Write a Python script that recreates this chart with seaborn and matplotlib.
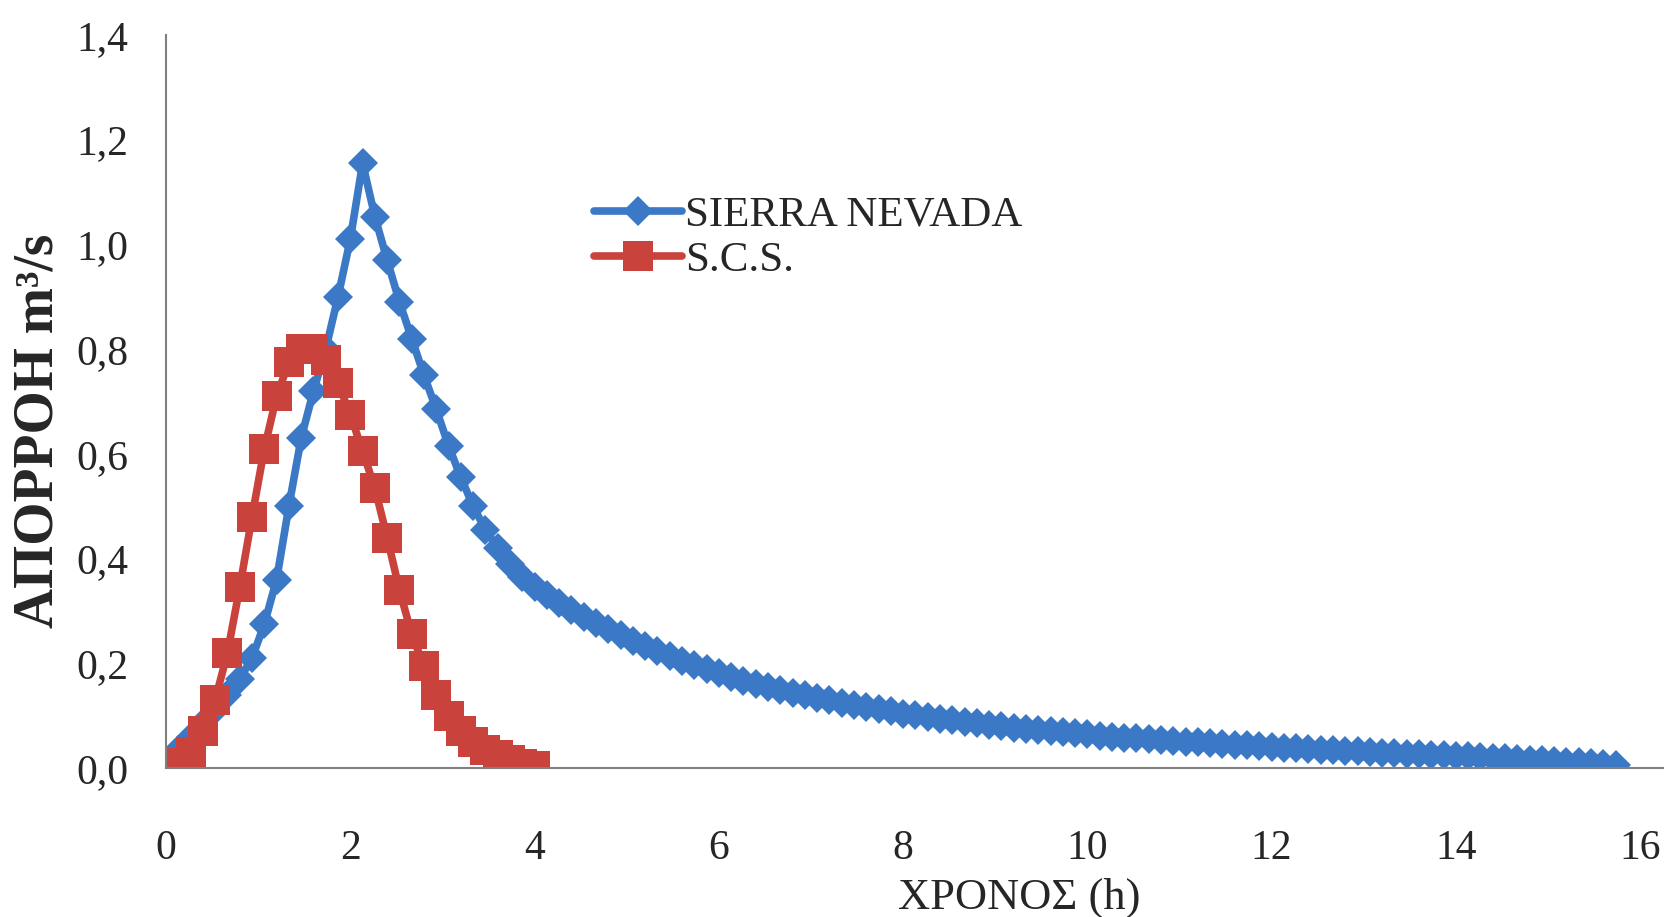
import numpy as np
import pandas as pd
import seaborn as sns
import matplotlib.pyplot as plt

# time step of both hydrographs: 8 minutes
step_h = 8 / 60

# runoff (m3/s) - SIERRA NEVADA unit hydrograph
sierra_q = [
    0.01, 0.035, 0.06, 0.085, 0.11, 0.14, 0.17, 0.21, 0.275, 0.36,
    0.50, 0.63, 0.72, 0.80, 0.90, 1.01, 1.155, 1.053, 0.97, 0.89,
    0.82, 0.75, 0.685, 0.615, 0.555, 0.50, 0.455, 0.42, 0.39, 0.365,
    0.345, 0.33, 0.316, 0.302, 0.289, 0.277, 0.265, 0.254, 0.243, 0.233,
    0.224, 0.214, 0.205, 0.197, 0.189, 0.181, 0.174, 0.167, 0.161, 0.155,
    0.149, 0.144, 0.139, 0.134, 0.129, 0.124, 0.12, 0.116, 0.112, 0.108,
    0.104, 0.101, 0.097, 0.094, 0.091, 0.088, 0.085, 0.082, 0.08, 0.077,
    0.075, 0.072, 0.07, 0.068, 0.066, 0.064, 0.062, 0.06, 0.058, 0.057,
    0.055, 0.053, 0.052, 0.05, 0.049, 0.047, 0.046, 0.044, 0.043, 0.042,
    0.04, 0.039, 0.038, 0.037, 0.035, 0.034, 0.033, 0.032, 0.031, 0.029,
    0.028, 0.027, 0.026, 0.025, 0.024, 0.023, 0.022, 0.021, 0.02, 0.019,
    0.018, 0.016, 0.015, 0.014, 0.012, 0.011, 0.009, 0.008, 0.006,
]

# runoff (m3/s) - S.C.S. unit hydrograph
scs_q = [
    0.0, 0.01, 0.03, 0.07, 0.13, 0.22, 0.345, 0.48, 0.61, 0.71,
    0.775, 0.80, 0.80, 0.78, 0.735, 0.675, 0.605, 0.535, 0.44, 0.34,
    0.255, 0.195, 0.14, 0.10, 0.07, 0.05, 0.035, 0.024, 0.015, 0.008,
    0.003,
]

y_ticks = [0.0, 0.2, 0.4, 0.6, 0.8, 1.0, 1.2, 1.4]
x_ticks = [0, 2, 4, 6, 8, 10, 12, 14, 16]

df_sn = pd.DataFrame({"t": np.arange(len(sierra_q)) * step_h, "q": sierra_q})
df_scs = pd.DataFrame({"t": np.arange(len(scs_q)) * step_h, "q": scs_q})

sns.set_style("white")
plt.rcParams["font.family"] = ["Liberation Serif", "DejaVu Serif"]

blue = "#3b78c6"
red = "#c9423b"

fig = plt.figure(figsize=(16.69, 9.17), dpi=100)
ax = fig.add_axes([0.0995, 0.1625, 0.897, 0.7993])

sns.lineplot(data=df_sn, x="t", y="q", ax=ax, color=blue, marker="D",
             markersize=15, markeredgewidth=0, linewidth=5.5,
             label="SIERRA NEVADA")
sns.lineplot(data=df_scs, x="t", y="q", ax=ax, color=red, marker="s",
             markersize=21, markeredgewidth=0, linewidth=5.5,
             label="S.C.S.")

ax.set_xlim(0, 16.25)
ax.set_ylim(0, 1.4)
ax.set_xticks(x_ticks)
ax.set_yticks(y_ticks)
ax.set_yticklabels([f"{v:.1f}".replace(".", ",") for v in y_ticks])
ax.tick_params(axis="both", length=0, labelsize=30)
ax.tick_params(axis="x", pad=44)
ax.tick_params(axis="y", pad=27)

for s in ["top", "right"]:
    ax.spines[s].set_visible(False)
for s in ["left", "bottom"]:
    ax.spines[s].set_color("#808080")
    ax.spines[s].set_linewidth(1.5)

ax.set_ylabel("ΑΠΟΡΡΟΗ m³/s", fontsize=40, fontweight="bold")
ax.yaxis.set_label_coords(-0.068, 0.46)
ax.set_xlabel("ΧΡΟΝΟΣ (h)", fontsize=32)
ax.xaxis.set_label_coords(0.57, -0.15)

ax.legend(loc="upper left", bbox_to_anchor=(0.286, 0.781), frameon=False,
          fontsize=31, handlelength=2.05, handletextpad=0.05,
          labelspacing=0.14, borderpad=0, borderaxespad=0)

fig.savefig("out.png", dpi=100)
